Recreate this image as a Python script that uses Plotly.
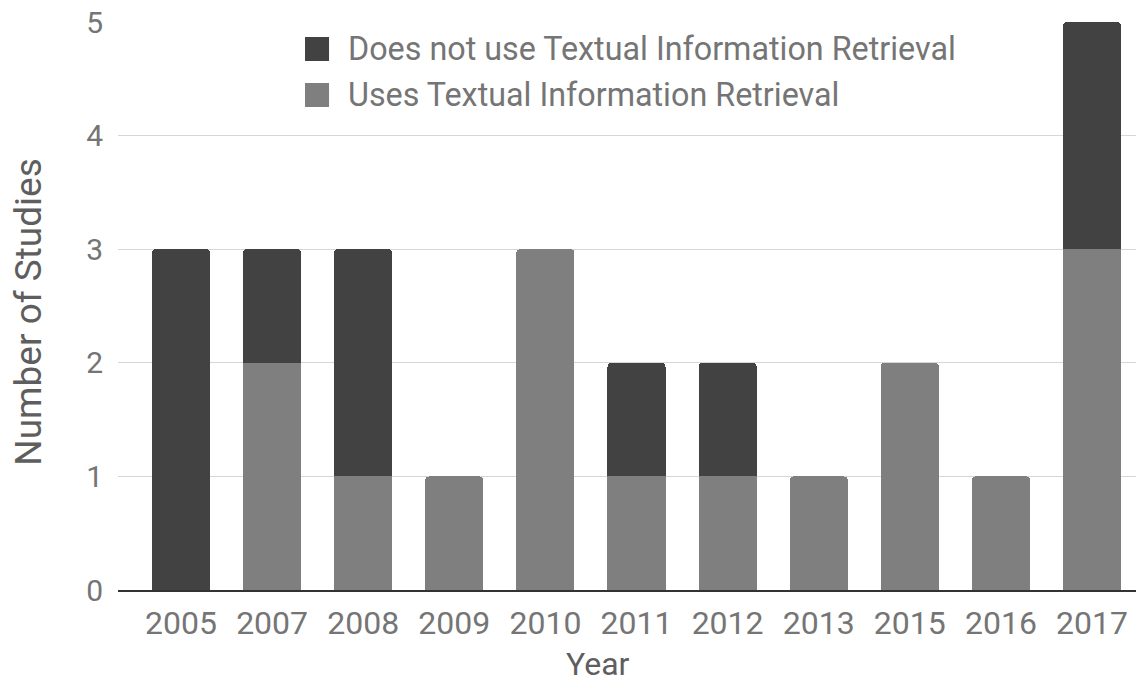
import plotly.graph_objects as go

# Studies per publication year, split by use of textual information retrieval
years = ["2005", "2007", "2008", "2009", "2010", "2011", "2012", "2013", "2015", "2016", "2017"]
uses_tir = [0, 2, 1, 1, 3, 1, 1, 1, 2, 1, 3]
no_tir = [3, 1, 2, 0, 0, 1, 1, 0, 0, 0, 2]
y_ticks = [0, 1, 2, 3, 4, 5]

series_names = ["Does not use Textual Information Retrieval", "Uses Textual Information Retrieval"]
DARK = "#424242"
LIGHT = "#7f7f7f"
TEXT = "#757575"
TITLE = "#5e5e5e"
FONT = "Roboto"

fig = go.Figure()
# first trace sits at the bottom of each stack
fig.add_trace(go.Bar(x=years, y=uses_tir, name=series_names[1], marker_color=LIGHT,
                     marker_line_width=0, showlegend=False))
fig.add_trace(go.Bar(x=years, y=no_tir, name=series_names[0], marker_color=DARK,
                     marker_line_width=0, showlegend=False))

fig.update_layout(
    width=1136, height=684,
    margin=dict(l=118, r=0, t=22, b=94),
    paper_bgcolor="white", plot_bgcolor="white",
    barmode="stack", bargap=0.363, barcornerradius=4,
    font=dict(family=FONT, size=32, color=TEXT),
)

fig.update_xaxes(
    type="category", range=[-0.6916, 10.483],
    showgrid=False, showline=True, linecolor="#333333", linewidth=1.5,
    ticks="", ticklabelstandoff=4,
    tickfont=dict(family=FONT, size=32, color=TEXT),
)
fig.update_yaxes(
    range=[0, 5], tickvals=y_ticks, ticktext=[str(v) for v in y_ticks],
    showgrid=True, gridcolor="#d6d6d6", gridwidth=1,
    zeroline=False, showline=False, ticks="", ticklabelstandoff=14,
    tickfont=dict(family=FONT, size=30, color=TEXT),
)

# axis titles
fig.add_annotation(text="Year", xref="paper", yref="paper", x=0.4715, y=-0.131,
                   xanchor="center", yanchor="middle",
                   showarrow=False, font=dict(family=FONT, size=32, color=TITLE))
fig.add_annotation(text="Number of Studies", xref="paper", yref="paper", x=-0.0874, y=0.49,
                   xanchor="center", yanchor="middle", textangle=-90, showarrow=False,
                   font=dict(family=FONT, size=37, color=TITLE))

# legend drawn inside the plot area
legend_rows = [(series_names[0], DARK, 0.9313, 0.9736, 0.9525),
               (series_names[1], LIGHT, 0.8504, 0.8926, 0.8715)]
for label, color, y0, y1, yc in legend_rows:
    fig.add_shape(type="rect", xref="paper", yref="paper", x0=0.1837, x1=0.2073,
                  y0=y0, y1=y1, fillcolor=color, line_width=0, layer="above")
    fig.add_annotation(text=label, xref="paper", yref="paper", x=0.2235, y=yc,
                       xanchor="left", yanchor="middle", showarrow=False,
                       font=dict(family=FONT, size=32.3, color=TEXT))

fig.write_html("out.html")
